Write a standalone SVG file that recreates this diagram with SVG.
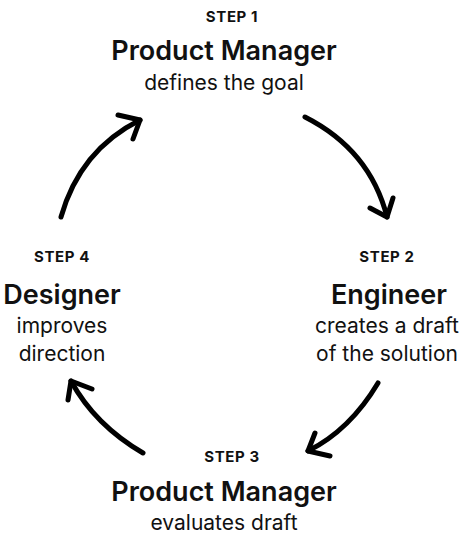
<svg xmlns="http://www.w3.org/2000/svg" width="465" height="537" viewBox="0 0 465 537">
<style>
text{font-family:Inter,"Noto Sans",sans-serif;fill:#111;text-anchor:middle}
.step{font-size:15px;font-weight:700;letter-spacing:0.6px}
.title{font-size:27px;font-weight:600}
.sub{font-size:21px;font-weight:400}
.arr{fill:none;stroke:#000;stroke-width:5;stroke-linecap:round;stroke-linejoin:round}
</style>
<rect width="465" height="537" fill="#fff"/>
<g id="step1">
<text class="step" x="232" y="22">STEP 1</text>
<text class="title" x="224" y="60">Product Manager</text>
<text class="sub" x="224" y="90">defines the goal</text>
</g>
<g id="step2">
<text class="step" x="387" y="262">STEP 2</text>
<text class="title" x="389" y="304">Engineer</text>
<text class="sub" x="387" y="333">creates a draft</text>
<text class="sub" x="387" y="361">of the solution</text>
</g>
<g id="step3">
<text class="step" x="232" y="462">STEP 3</text>
<text class="title" x="224" y="501">Product Manager</text>
<text class="sub" x="224" y="530">evaluates draft</text>
</g>
<g id="step4">
<text class="step" x="62" y="262">STEP 4</text>
<text class="title" x="62" y="304">Designer</text>
<text class="sub" x="62" y="333">improves</text>
<text class="sub" x="62" y="361">direction</text>
</g>
<g id="connectors">
<path class="arr" d="M61 217 Q80 150 140 120"/>
<path class="arr" d="M118 115 L140 120 L133 139"/>
<path class="arr" d="M305 117 Q370 150 387 217"/>
<path class="arr" d="M370 208 L387 217 L393 198"/>
<path class="arr" d="M378 383 Q350 430 308 451"/>
<path class="arr" d="M315 433 L308 451 L330 456"/>
<path class="arr" d="M143 453 Q95 425 71 381"/>
<path class="arr" d="M68 400 L71 381 L92 389"/>
</g>
</svg>
